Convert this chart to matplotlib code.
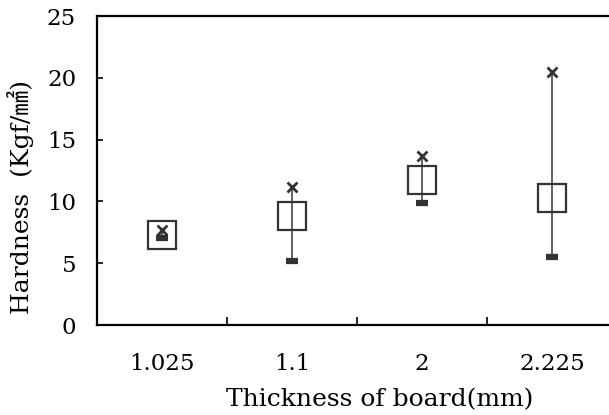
import matplotlib
matplotlib.use("Agg")
import matplotlib.pyplot as plt
import numpy as np

categories = ["1.025", "1.1", "2", "2.225"]
mean_vals = [7.25, 8.85, 11.75, 10.3]
max_vals = [7.65, 11.15, 13.7, 20.45]
min_vals = [7.0, 5.2, 9.9, 5.5]

plt.rcParams['font.family'] = ['DejaVu Serif', 'Noto Sans CJK KR', 'DejaVu Sans']

fig = plt.figure(figsize=(6.09, 4.15), dpi=100)
ax = fig.add_axes([97/609, 1-325/415, 520/609, 309/415])

x = np.arange(len(categories))
col = '#333333'
for xi, lo, hi in zip(x, min_vals, max_vals):
    ax.plot([xi, xi], [lo, hi], color='#555555', lw=1.3, zorder=1)
ax.plot(x, mean_vals, ls='none', marker='s', markersize=20.5, mfc='none',
        mec=col, mew=1.6, zorder=2)
ax.plot(x, min_vals, ls='none', marker='_', markersize=9, mew=4.5,
        color=col, zorder=3)
ax.plot(x, max_vals, ls='none', marker='x', markersize=6.5, mew=2,
        color=col, zorder=3)

ax.set_xlim(-0.5, len(categories) - 0.5)
ax.set_ylim(0, 25)
ax.set_yticks([0, 5, 10, 15, 20, 25])
ax.set_xticks(x)
ax.set_xticklabels(categories)
ax.set_xticks(x[:-1] + 0.5, minor=True)
ax.tick_params(axis='x', which='major', length=0, pad=20, labelsize=16.5)
ax.tick_params(axis='x', which='minor', direction='in', length=6, width=1.2)
ax.tick_params(axis='y', direction='in', length=4, width=1.2, pad=15, labelsize=16.5)
for s in ax.spines.values():
    s.set_linewidth(1.6)
    s.set_color('black')

fig.text(380/609, 1-400/415, "Thickness of board(mm)", ha='center', va='center',
         fontsize=18)
fig.text(21/609, 1-197/415, "Hardness  (Kgf/㎟)", ha='center', va='center',
         rotation=90, fontsize=18)

fig.savefig("out.png", dpi=100)
